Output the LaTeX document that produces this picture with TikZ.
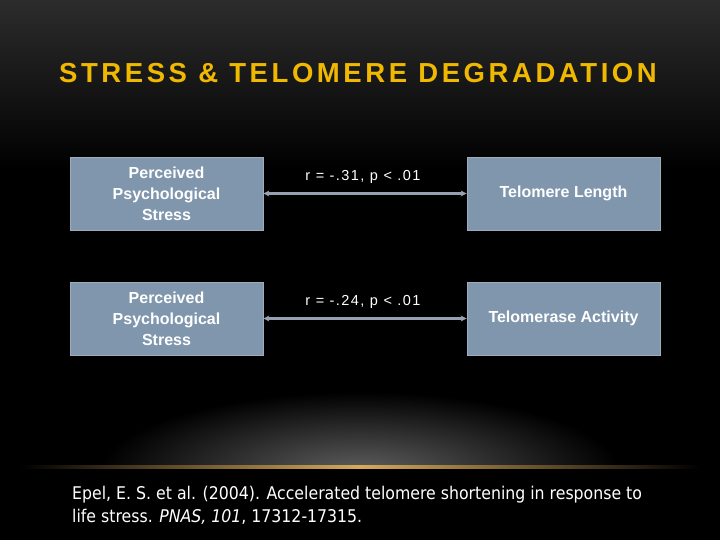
\documentclass[tikz,border=0pt]{standalone}
\usepackage{fontspec}
\setmainfont{Liberation Sans}
\newfontfamily\citefont{DejaVu Sans Condensed}
\newfontfamily\titlefont[LetterSpace=13]{Liberation Sans}
\newfontfamily\rfont[LetterSpace=10]{Liberation Sans}
\usetikzlibrary{arrows.meta}
\definecolor{boxfill}{RGB}{127,150,173}
\definecolor{boxline}{RGB}{160,172,185}
\definecolor{titlegold}{RGB}{240,184,0}
\definecolor{linkgray}{RGB}{150,160,175}
\definecolor{glowgold}{RGB}{215,170,90}
\tikzset{
  varbox/.style={draw=boxline, line width=0.8pt, fill=boxfill, minimum width=193pt, minimum height=73pt,
    text=white, font=\bfseries\fontsize{16}{21}\selectfont, align=center, inner sep=2pt},
  link/.style={draw=linkgray, line width=2.2pt, {Stealth[length=6pt,width=6pt]}-{Stealth[length=6pt,width=6pt]}},
  rlabel/.style={text=white, font=\rfont\fontsize{14.5}{16}\selectfont, inner sep=0pt}
}
\begin{document}
\begin{tikzpicture}[x=1pt,y=-1pt]
\useasboundingbox (0,0) rectangle (720,540);
% background
\fill[black] (0,0) rectangle (720,540);
\shade[top color={rgb,255:red,44;green,44;blue,44}, bottom color=black] (0,0) rectangle (720,170);
% glow
\begin{scope}
\clip (0,390) rectangle (720,467);
\shade[inner color={rgb,255:red,95;green,95;blue,95}, outer color=black] (360,472) ellipse (260 and 80);
\end{scope}
\shade[left color=black, right color=glowgold] (20,465.5) rectangle (360,468.5);
\shade[left color=glowgold, right color=black] (360,465.5) rectangle (700,468.5);
% title
\node[text=titlegold, font=\titlefont\bfseries\fontsize{27.5}{30}\selectfont, inner sep=0pt] (title) at (358,73) {STRESS \& TELOMERE DEGRADATION};
% boxes
\node[varbox] (b1) at (166.5,193.5) {Perceived\\Psychological\\Stress};
\node[varbox] (t1) at (563.5,193.5) {Telomere Length};
\node[varbox] (b2) at (166.5,318.5) {Perceived\\Psychological\\Stress};
\node[varbox] (t2) at (563.5,318.5) {Telomerase Activity};
% links
\draw[link] (b1.east) -- (t1.west);
\draw[link] (b2.east) -- (t2.west);
\node[rlabel] (r1) at (363,177) {r = -.31, p < .01};
\node[rlabel] (r2) at (363,302) {r = -.24, p < .01};
% citation
\node[text=white, font=\citefont\fontsize{17.5}{23}\selectfont, align=left, anchor=north west, inner sep=0pt] (cite) at (72,486)
 {Epel, E. S. et al. (2004). Accelerated telomere shortening in response to\\life stress. \textit{PNAS, 101}, 17312-17315.};
\end{tikzpicture}
\end{document}
